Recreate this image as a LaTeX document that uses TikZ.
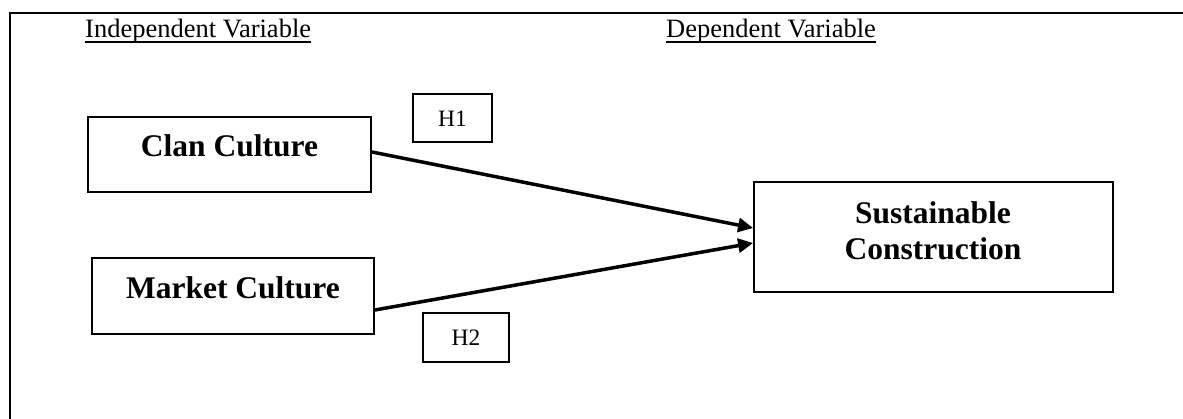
\documentclass[tikz,border=0pt]{standalone}
\usepackage{fontspec}
\setmainfont{Liberation Serif}
\usetikzlibrary{arrows.meta}
\begin{document}
\begin{tikzpicture}[x=1pt,y=-1pt,
  headtext/.style={inner sep=0pt, anchor=base west, font=\fontsize{26.5}{30}\selectfont},
  varbox/.style={draw, line width=1.8pt, inner sep=0pt, font=\bfseries\fontsize{31.5}{36}\selectfont},
  hbox/.style={draw, line width=1.5pt, inner sep=0pt, font=\fontsize{23.5}{27}\selectfont},
  link/.style={line width=3.5pt, -{Triangle[length=15pt,width=14pt]}},
  uline/.style={line width=1.3pt}
]
\useasboundingbox (0,0) rectangle (1183,419);
% frame (top and left edges)
\coordinate (fbl) at (9.5,419);
\coordinate (ftl) at (9.5,13);
\coordinate (ftr) at (1183,13);
\draw[line width=2pt] (fbl) -- (ftl) -- (ftr);

% headings
\node[headtext] (indep) at (85,38) {Independent Variable};
\node[headtext] (dep) at (666,38) {Dependent Variable};
\draw[uline] ([yshift=-4pt]indep.base west) -- ([yshift=-4pt]indep.base east);
\draw[uline] ([yshift=-4pt]dep.base west) -- ([yshift=-4pt]dep.base east);

% variable boxes
\node[varbox, minimum width=283pt, text height=40pt, text depth=35pt] (clan) at (229.5,154.5) {Clan Culture};
\node[varbox, minimum width=282pt, text height=41pt, text depth=35pt] (market) at (233,296) {Market Culture};
\node[varbox, minimum width=359pt, minimum height=110pt] (sus) at (933.5,237) {};
\node[inner sep=0pt, anchor=north, align=center, font=\bfseries\fontsize{31.5}{36}\selectfont] (sustext) at (933,201.5) {Sustainable\\Construction};

% hypothesis boxes
\node[hbox, minimum width=79pt, text height=33pt, text depth=15pt] (h1) at (452.5,118) {H1};
\node[hbox, minimum width=86pt, text height=33pt, text depth=16pt] (h2) at (466,337.5) {H2};

% arrows
\draw[link] ([yshift=2.5pt]clan.east) -- ([yshift=9pt]sus.west);
\draw[link] ([yshift=-14pt]market.east) -- ([yshift=-6pt]sus.west);
\end{tikzpicture}
\end{document}
